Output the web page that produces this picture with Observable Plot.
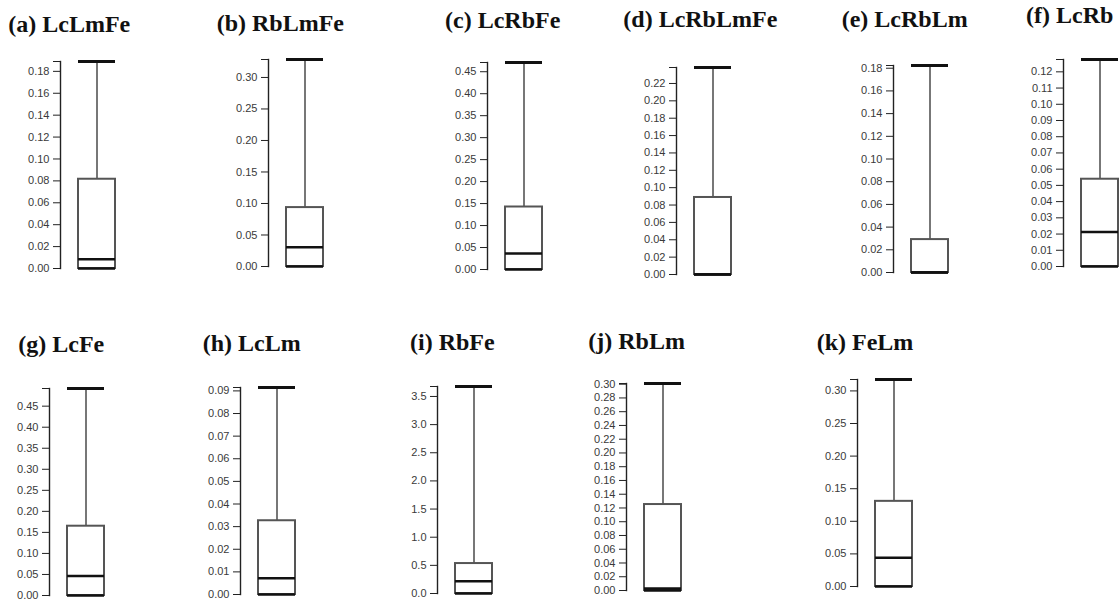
<!DOCTYPE html>
<html><head><meta charset="utf-8">
<script src="https://cdn.jsdelivr.net/npm/d3@7"></script>
<script src="https://cdn.jsdelivr.net/npm/@observablehq/plot@0.6"></script>
<style>
body{margin:0;background:#fff;}
#chart{position:relative;width:1119px;height:605px;overflow:hidden;background:#fff;}
.panel{position:absolute;}
.ptitle{position:absolute;font-family:"Liberation Serif","Times New Roman",serif;font-weight:700;font-size:24px;color:#111;white-space:nowrap;line-height:1;}
</style></head><body><div id="chart"></div>
<script>
// ---- data ----
const names = ["(a) LcLmFe","(b) RbLmFe","(c) LcRbFe","(d) LcRbLmFe","(e) LcRbLm","(f) LcRb",
               "(g) LcFe","(h) LcLm","(i) RbFe","(j) RbLm","(k) FeLm"];
const maxima  = [0.189, 0.3285, 0.471, 0.2384, 0.1824, 0.1276, 0.492, 0.0915, 3.677, 0.301, 0.3175];
const q3s     = [0.0815, 0.0935, 0.1422, 0.0887, 0.029, 0.0538, 0.1647, 0.0326, 0.532, 0.125, 0.1306];
const medians = [0.0085, 0.0307, 0.0365, 0.0, 0.0, 0.0212, 0.0466, 0.0072, 0.218, 0.003, 0.0441];
const q1s     = [0, 0, 0, 0, 0, 0, 0, 0, 0, 0, 0];
const tickLists = [
  [0,0.02,0.04,0.06,0.08,0.10,0.12,0.14,0.16,0.18],
  [0,0.05,0.10,0.15,0.20,0.25,0.30],
  [0,0.05,0.10,0.15,0.20,0.25,0.30,0.35,0.40,0.45],
  [0,0.02,0.04,0.06,0.08,0.10,0.12,0.14,0.16,0.18,0.20,0.22],
  [0,0.02,0.04,0.06,0.08,0.10,0.12,0.14,0.16,0.18],
  [0,0.01,0.02,0.03,0.04,0.05,0.06,0.07,0.08,0.09,0.10,0.11,0.12],
  [0,0.05,0.10,0.15,0.20,0.25,0.30,0.35,0.40,0.45],
  [0,0.01,0.02,0.03,0.04,0.05,0.06,0.07,0.08,0.09],
  [0,0.5,1.0,1.5,2.0,2.5,3.0,3.5],
  [0,0.02,0.04,0.06,0.08,0.10,0.12,0.14,0.16,0.18,0.20,0.22,0.24,0.26,0.28,0.30],
  [0,0.05,0.10,0.15,0.20,0.25,0.30]
];
const decimals = [2,2,2,2,2,2,2,2,1,2,2];

// ---- layout (axis x, plot top y, title x, title baseline y) ----
const layout = [
  {ax:60,    top:61,    tx:8.3,   ty:31.7},
  {ax:267.7, top:59.3,  tx:216.7, ty:30.7},
  {ax:487.3, top:62,    tx:445,   ty:28.3},
  {ax:676,   top:67.3,  tx:623.3, ty:27.3},
  {ax:893.3, top:65,    tx:841.7, ty:26.7},
  {ax:1063.3,top:59.3,  tx:1026,  ty:23.3},
  {ax:49.3,  top:388.3, tx:18.3,  ty:351.7},
  {ax:240,   top:386.7, tx:202.7, ty:351},
  {ax:436.7, top:386,   tx:410,   ty:350},
  {ax:626,   top:383.3, tx:588.3, ty:349.3},
  {ax:856.7, top:379.3, tx:816.7, ty:350}
];
const ML = 52, MT = 8, MB = 8, PH = 207, GAP = 18, BOXW = 37;

const chart = document.getElementById("chart");
names.forEach((name, i) => {
  const row = {name, q1: q1s[i], med: medians[i], q3: q3s[i], max: maxima[i]};
  const fmt = d3.format(`.${decimals[i]}f`);
  const p = Plot.plot({
    width: ML + GAP + BOXW + 2, height: MT + PH + MB,
    marginLeft: ML, marginRight: 2, marginTop: MT, marginBottom: MB,
    style: {fontFamily: "'Liberation Sans', Arial, sans-serif", fontSize: "11px", color: "#333", background: "transparent", overflow: "visible"},
    x: {domain: [name], axis: null, paddingInner: 0, paddingOuter: 0, insetLeft: GAP},
    y: {domain: [0, maxima[i]]},
    marks: [
      Plot.frame({anchor: "left", stroke: "#222", strokeWidth: 1.4}),
      Plot.axisY(tickLists[i], {tickFormat: fmt, tickSize: 7, tickPadding: 4, stroke: "#222", fill: "#3a3a3a", label: null}),
      Plot.axisY([maxima[i]], {tickFormat: () => "", tickSize: 7, stroke: "#222", label: null}),
      Plot.ruleX([row], {x: "name", y1: "q3", y2: "max", stroke: "#777", strokeWidth: 2}),
      Plot.barY([row], {x: "name", y1: "q1", y2: "q3", fill: "white", stroke: "#555", strokeWidth: 2}),
      Plot.tickY([row], {x: "name", y: "med", stroke: "#111", strokeWidth: 2.5}),
      Plot.tickY([row], {x: "name", y: "q1", stroke: "#111", strokeWidth: 2.5}),
      Plot.tickY([row], {x: "name", y: "max", stroke: "#111", strokeWidth: 3})
    ]
  });
  p.classList.add("panel");
  p.style.left = (layout[i].ax - ML) + "px";
  p.style.top = (layout[i].top - MT) + "px";
  chart.appendChild(p);
  const t = document.createElement("div");
  t.className = "ptitle";
  t.textContent = name;
  t.style.left = layout[i].tx + "px";
  t.style.top = (layout[i].ty - 20.1) + "px";
  chart.appendChild(t);
});
</script>
</body></html>
